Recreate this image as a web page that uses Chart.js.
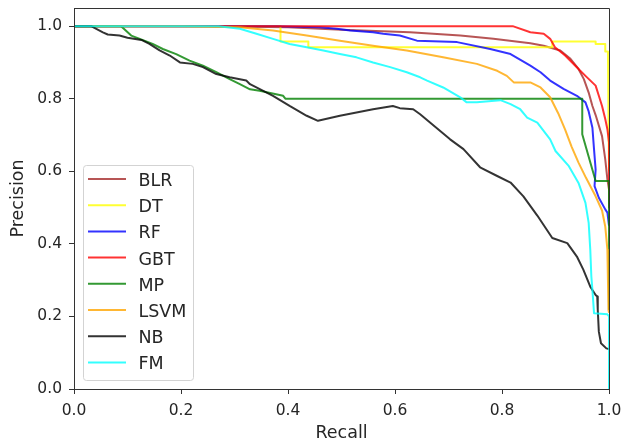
<!DOCTYPE html>
<html>
<head>
<meta charset="utf-8">
<script src="https://cdn.jsdelivr.net/npm/chart.js@4.4.0/dist/chart.umd.min.js"></script>
<style>
  html, body { margin: 0; padding: 0; background: #fff; }
  canvas { display: block; }
</style>
</head>
<body>
<canvas id="prChart" width="621" height="446"></canvas>
<script>
// series names + matplotlib colours (drawn at alpha 0.8)
var seriesNames = ['BLR', 'DT', 'RF', 'GBT', 'MP', 'LSVM', 'NB', 'FM'];
var seriesColors = ['rgba(165,42,42,0.8)', 'rgba(255,255,0,0.8)', 'rgba(0,0,255,0.8)', 'rgba(255,0,0,0.8)',
                    'rgba(0,128,0,0.8)', 'rgba(255,165,0,0.8)', 'rgba(0,0,0,0.8)', 'rgba(0,255,255,0.8)'];
var xTicks = [0, 0.2, 0.4, 0.6, 0.8, 1.0];
var yTicks = [0, 0.2, 0.4, 0.6, 0.8, 1.0];

// recall / precision
var blrRecall    = [0, 0.25, 0.4, 0.5, 0.628, 0.722, 0.784, 0.853, 0.878, 0.909, 0.928, 0.943, 0.953, 0.962, 0.969, 0.975, 0.987, 0.993, 0.997, 1.0, 1.0];
var blrPrecision = [1, 1, 0.997, 0.99, 0.983, 0.974, 0.965, 0.953, 0.946, 0.933, 0.91, 0.882, 0.854, 0.817, 0.78, 0.755, 0.697, 0.633, 0.578, 0.55, 0.5];

var dtRecall    = [0, 0.386, 0.386, 0.438, 0.438, 0.894, 0.894, 0.975, 0.975, 0.993, 0.993, 0.998, 1.0];
var dtPrecision = [1, 1, 0.958, 0.958, 0.942, 0.942, 0.958, 0.958, 0.951, 0.951, 0.93, 0.93, 0.6];

var rfRecall    = [0, 0.38, 0.46, 0.491, 0.516, 0.559, 0.578, 0.609, 0.641, 0.716, 0.778, 0.816, 0.853, 0.872, 0.89, 0.915, 0.94, 0.956, 0.962, 0.969, 0.972, 0.975, 0.973, 0.981, 0.993, 0.997, 1.0];
var rfPrecision = [1, 1, 0.997, 0.993, 0.988, 0.983, 0.979, 0.974, 0.96, 0.956, 0.937, 0.923, 0.891, 0.873, 0.85, 0.827, 0.808, 0.79, 0.765, 0.72, 0.661, 0.605, 0.559, 0.527, 0.495, 0.486, 0.45];

var gbtRecall    = [0, 0.82, 0.853, 0.878, 0.89, 0.899, 0.918, 0.937, 0.956, 0.975, 0.981, 0.987, 0.993, 0.997, 1.0, 1.0];
var gbtPrecision = [1, 1, 0.983, 0.979, 0.965, 0.942, 0.919, 0.891, 0.863, 0.836, 0.808, 0.78, 0.744, 0.716, 0.68, 0.55];

var mpRecall    = [0, 0.088, 0.107, 0.123, 0.147, 0.166, 0.191, 0.216, 0.241, 0.266, 0.291, 0.31, 0.329, 0.347, 0.391, 0.395, 0.95, 0.95, 0.975, 1.0, 1.0];
var mpPrecision = [1, 1, 0.974, 0.965, 0.951, 0.937, 0.923, 0.905, 0.891, 0.873, 0.854, 0.84, 0.826, 0.822, 0.808, 0.8, 0.8, 0.702, 0.573, 0.573, 0.22];

var lsvmRecall    = [0, 0.2, 0.31, 0.372, 0.435, 0.497, 0.559, 0.622, 0.69, 0.753, 0.791, 0.809, 0.822, 0.853, 0.872, 0.89, 0.905, 0.918, 0.93, 0.943, 0.957, 0.975, 0.987, 0.993, 0.997, 0.998, 0.999, 1.0];
var lsvmPrecision = [1, 1, 0.997, 0.988, 0.974, 0.96, 0.946, 0.933, 0.914, 0.896, 0.877, 0.863, 0.845, 0.845, 0.831, 0.804, 0.76, 0.715, 0.668, 0.624, 0.582, 0.531, 0.492, 0.448, 0.384, 0.3, 0.218, 0.21];

var nbRecall    = [0, 0.032, 0.054, 0.063, 0.085, 0.1, 0.126, 0.141, 0.16, 0.179, 0.198, 0.222, 0.241, 0.266, 0.291, 0.322, 0.329, 0.372, 0.403, 0.435, 0.456, 0.497, 0.559, 0.596, 0.609, 0.634, 0.647, 0.666, 0.703, 0.728, 0.759, 0.791, 0.816, 0.84, 0.866, 0.894, 0.922, 0.94, 0.952, 0.965, 0.975, 0.978, 0.979, 0.981, 0.985, 0.995, 1.0];
var nbPrecision = [1, 1, 0.983, 0.977, 0.974, 0.968, 0.962, 0.951, 0.933, 0.919, 0.9, 0.896, 0.887, 0.868, 0.859, 0.85, 0.84, 0.808, 0.78, 0.753, 0.739, 0.753, 0.771, 0.78, 0.774, 0.771, 0.757, 0.734, 0.688, 0.661, 0.611, 0.587, 0.569, 0.531, 0.478, 0.416, 0.402, 0.365, 0.329, 0.282, 0.259, 0.255, 0.218, 0.158, 0.126, 0.112, 0.11];

var fmRecall    = [0, 0.27, 0.31, 0.341, 0.372, 0.403, 0.435, 0.466, 0.497, 0.528, 0.559, 0.591, 0.622, 0.647, 0.66, 0.69, 0.722, 0.734, 0.753, 0.797, 0.816, 0.834, 0.847, 0.866, 0.89, 0.9, 0.925, 0.943, 0.956, 0.962, 0.965, 0.967, 0.969, 0.972, 0.997, 1.0, 1.0];
var fmPrecision = [1, 1, 0.993, 0.979, 0.965, 0.951, 0.942, 0.933, 0.923, 0.914, 0.9, 0.887, 0.873, 0.859, 0.85, 0.831, 0.804, 0.79, 0.79, 0.796, 0.785, 0.771, 0.748, 0.734, 0.688, 0.656, 0.614, 0.568, 0.513, 0.458, 0.384, 0.31, 0.273, 0.209, 0.206, 0.2, 0];

var recallLists = [blrRecall, dtRecall, rfRecall, gbtRecall, mpRecall, lsvmRecall, nbRecall, fmRecall];
var precisionLists = [blrPrecision, dtPrecision, rfPrecision, gbtPrecision, mpPrecision, lsvmPrecision, nbPrecision, fmPrecision];

var FONT = "'DejaVu Sans', 'Liberation Sans', sans-serif";
Chart.defaults.font.family = FONT;

var datasets = seriesNames.map(function(name, i) {
    return {
        label: name,
        data: recallLists[i].map(function(r, j) { return { x: r, y: precisionLists[i][j] }; }),
        borderColor: seriesColors[i],
        backgroundColor: seriesColors[i],
        borderWidth: 2,
        borderJoinStyle: 'round',
        pointRadius: 0,
        tension: 0,
        fill: false,
        order: seriesNames.length - i   // later series on top, like matplotlib
    };
});

// matplotlib style legend box in lower left of the axes
var boxLegend = {
    id: 'boxLegend',
    afterDraw: function(chart) {
        var ctx = chart.ctx;
        var area = chart.chartArea;
        var x0 = 83.5, y0 = 165.5, w = 110, h = 215;
        ctx.save();
        ctx.beginPath();
        ctx.roundRect(x0, y0, w, h, 3);
        ctx.fillStyle = 'rgba(255,255,255,0.8)';
        ctx.fill();
        ctx.strokeStyle = '#d3d3d3';
        ctx.lineWidth = 1;
        ctx.stroke();
        ctx.font = '17.5px ' + FONT;
        ctx.textBaseline = 'middle';
        ctx.textAlign = 'left';
        chart.data.datasets.forEach(function(ds, i) {
            var yy = 179 + i * 26.2;
            ctx.beginPath();
            ctx.moveTo(88, yy);
            ctx.lineTo(126, yy);
            ctx.strokeStyle = ds.borderColor;
            ctx.lineWidth = 2;
            ctx.stroke();
            ctx.fillStyle = '#262626';
            ctx.fillText(ds.label, 138.5, yy + 2.5);
        });
        // top and right spines
        ctx.beginPath();
        ctx.strokeStyle = '#333';
        ctx.lineWidth = 1;
        ctx.rect(area.left + 0.5, area.top + 0.5, area.right - area.left, area.bottom - area.top);
        ctx.stroke();
        ctx.restore();
    }
};

var chart = new Chart(document.getElementById('prChart').getContext('2d'), {
    type: 'line',
    data: { datasets: datasets },
    options: {
        responsive: false,
        animation: false,
        devicePixelRatio: 1,
        layout: { padding: { left: 0, right: 12, top: 8, bottom: 0 } },
        plugins: {
            legend: { display: false },
            tooltip: { enabled: false }
        },
        scales: {
            x: {
                type: 'linear',
                min: 0,
                max: 1,
                afterBuildTicks: function(scale) { scale.ticks = xTicks.map(function(v) { return { value: v }; }); },
                afterFit: function(scale) { scale.height = 57; scale.paddingLeft = 0; scale.paddingRight = 0; },
                ticks: {
                    color: '#262626',
                    font: { size: 15.5 },
                    padding: 8,
                    maxRotation: 0,
                    callback: function(v) { return v.toFixed(1); }
                },
                grid: { drawOnChartArea: false, drawTicks: true, tickLength: 5, tickColor: '#333' },
                border: { color: '#333', width: 1 },
                title: { display: true, text: 'Recall', color: '#262626', font: { size: 17.5 }, padding: { top: 0, bottom: 2 } }
            },
            y: {
                type: 'linear',
                min: 0,
                max: 1.05,
                afterBuildTicks: function(scale) { scale.ticks = yTicks.map(function(v) { return { value: v }; }); },
                afterFit: function(scale) { scale.width = 74; scale.paddingTop = 0; scale.paddingBottom = 0; },
                ticks: {
                    color: '#262626',
                    font: { size: 15.5 },
                    padding: 7,
                    callback: function(v) { return v.toFixed(1); }
                },
                grid: { drawOnChartArea: false, drawTicks: true, tickLength: 5, tickColor: '#333' },
                border: { color: '#333', width: 1 },
                title: { display: true, text: 'Precision', color: '#262626', font: { size: 17.5 }, padding: { top: 8, bottom: 0 } }
            }
        }
    },
    plugins: [boxLegend]
});
</script>
</body>
</html>
